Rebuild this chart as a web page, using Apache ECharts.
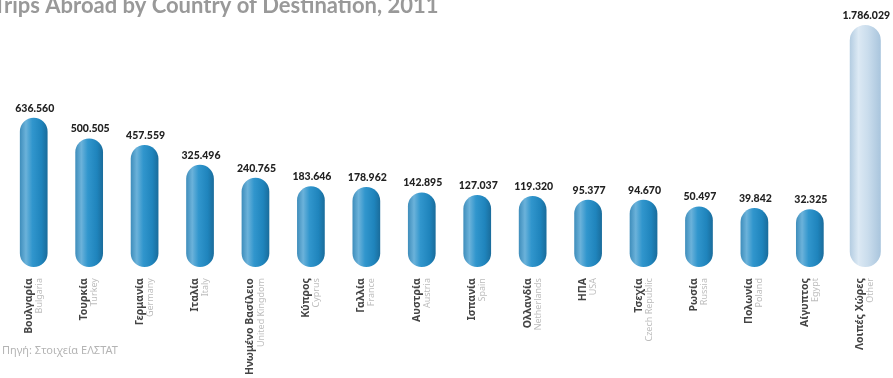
<!DOCTYPE html>
<html>
<head>
<meta charset="utf-8">
<title>Trips Abroad by Country of Destination, 2011</title>
<script src="https://cdn.jsdelivr.net/npm/echarts@6/dist/echarts.min.js"></script>
<style>
  html, body { margin: 0; padding: 0; background: #ffffff; }
  #chart { width: 893px; height: 378px; }
</style>
</head>
<body>
<div id="chart"></div>
<script>
// Destinations (Greek name, English name) and number of trips in 2011
const namesEl = ['Βουλγαρία', 'Τουρκία', 'Γερμανία', 'Ιταλία', 'Ηνωμένο Βασίλειο', 'Κύπρος',
  'Γαλλία', 'Αυστρία', 'Ισπανία', 'Ολλανδία', 'ΗΠΑ', 'Τσεχία', 'Ρωσία', 'Πολωνία', 'Αίγυπτος', 'Λοιπές Χώρες'];
const namesEn = ['Bulgaria', 'Turkey', 'Germany', 'Italy', 'United Kingdom', 'Cyprus',
  'France', 'Austria', 'Spain', 'Netherlands', 'USA', 'Czech Republic', 'Russia', 'Poland', 'Egypt', 'Other'];
const trips = [636560, 500505, 457559, 325496, 240765, 183646,
  178962, 142895, 127037, 119320, 95377, 94670, 50497, 39842, 32325, 1786029];

// Value axis range: capsules rise from the bottom of the axis; values above the top are cut off
const Y_MIN = -350000;
const Y_MAX = 1250000;

function fmt(v) {
  return String(v).replace(/\B(?=(\d{3})+(?!\d))/g, '.');
}

const blueFill = new echarts.graphic.LinearGradient(0, 0, 1, 0, [
  { offset: 0, color: '#3e8dbb' },
  { offset: 0.22, color: '#6bb2da' },
  { offset: 0.45, color: '#3196cd' },
  { offset: 0.78, color: '#1f84bc' },
  { offset: 1, color: '#1a6c9b' }
]);
const paleFill = new echarts.graphic.LinearGradient(0, 0, 1, 0, [
  { offset: 0, color: '#b3cce1' },
  { offset: 0.28, color: '#dce9f4' },
  { offset: 0.6, color: '#c9dcec' },
  { offset: 1, color: '#a9c5dd' }
]);

const chart = echarts.init(document.getElementById('chart'), null, { renderer: 'canvas' });

chart.setOption({
  animation: false,
  backgroundColor: '#ffffff',
  title: {
    text: 'Trips Abroad by Country of Destination, 2011',
    left: -7,
    top: -5,
    padding: 0,
    textStyle: { fontFamily: 'Lato', fontWeight: 'bold', fontSize: 22, color: '#999999' }
  },
  graphic: [{
    type: 'text',
    left: 2,
    top: 345,
    style: { text: 'Πηγή: Στοιχεία ΕΛΣΤΑΤ', font: '11px "Noto Sans"', fill: '#b4b4b4' }
  }],
  grid: { left: 6, right: 0, top: 25, bottom: 107, containLabel: false },
  xAxis: {
    type: 'category',
    data: namesEl,
    axisLine: { show: false, onZero: false },
    axisTick: { show: false },
    axisLabel: {
      interval: 0,
      rotate: 90,
      margin: 11,
      formatter: function (val, idx) {
        return '{el|' + namesEl[idx] + '}\n{en|' + namesEn[idx] + '}';
      },
      rich: {
        el: { fontFamily: 'Noto Sans', fontWeight: 'bold', fontSize: 10.5, color: '#444444', lineHeight: 11 },
        en: { fontFamily: 'Noto Sans', fontSize: 9, color: '#bdbdbd', lineHeight: 10 }
      }
    }
  },
  yAxis: { type: 'value', min: Y_MIN, max: Y_MAX, show: false },
  series: [{
    type: 'custom',
    data: trips.map(function (v, i) { return [i, v]; }),
    encode: { x: 0, y: 1 },
    renderItem: function (params, api) {
      const i = api.value(0);
      const v = api.value(1);
      const last = i === trips.length - 1;
      const top = api.coord([i, Math.min(v, Y_MAX)]);
      const base = api.coord([i, Y_MIN]);
      const band = api.size([1, 0])[0];
      const w = band * (last ? 0.56 : 0.5);
      return {
        type: 'group',
        children: [{
          type: 'rect',
          shape: { x: top[0] - w / 2, y: top[1], width: w, height: base[1] - top[1], r: w / 2 },
          style: { fill: last ? paleFill : blueFill }
        }, {
          type: 'text',
          x: top[0] + 1,
          y: top[1] - 4,
          style: {
            text: fmt(v),
            font: '900 10.5px Lato',
            fill: '#222222',
            align: 'center',
            verticalAlign: 'bottom'
          }
        }]
      };
    }
  }]
});
</script>
</body>
</html>
